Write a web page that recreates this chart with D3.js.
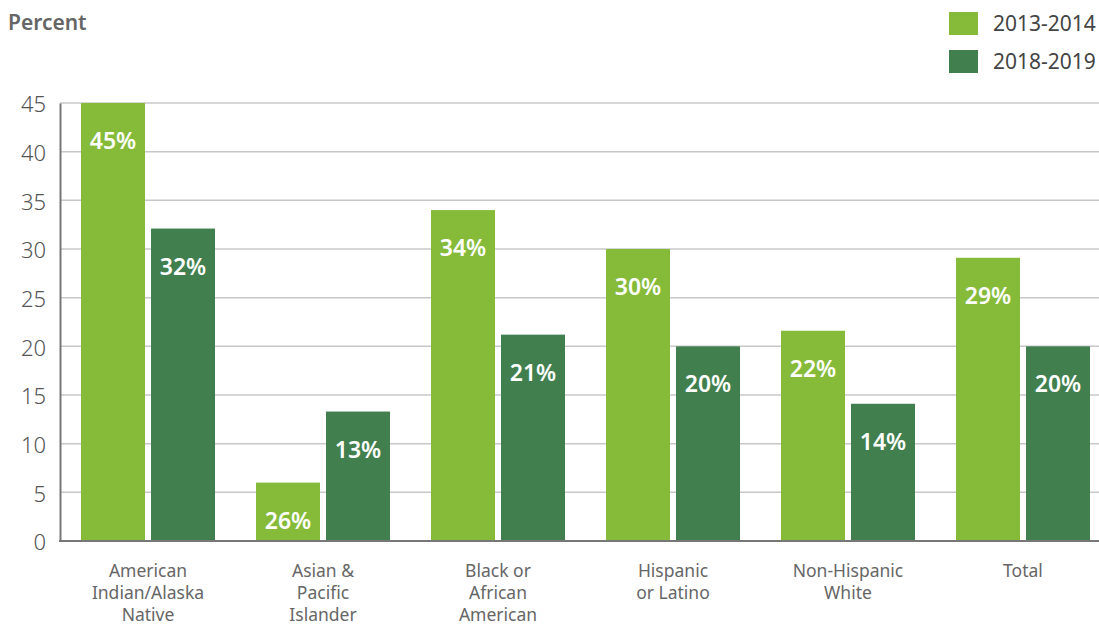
<!DOCTYPE html>
<html>
<head>
<meta charset="utf-8">
<script src="https://cdn.jsdelivr.net/npm/d3@7"></script>
<style>
  body { margin: 0; background: #fff; }
  text { font-family: "Noto Sans", Lato, sans-serif; }
</style>
</head>
<body>
<svg id="chart" width="1099" height="626"></svg>
<script>
const categories = [
    ['American', 'Indian/Alaska', 'Native'],
    ['Asian &', 'Pacific', 'Islander'],
    ['Black or', 'African', 'American'],
    ['Hispanic', 'or Latino'],
    ['Non-Hispanic', 'White'],
    ['Total']
]
const series = ['2013-2014', '2018-2019']
const values2013 = [45, 6, 34, 30, 21.6, 29.1]
const values2018 = [32.1, 13.3, 21.2, 20, 14.1, 20]
const labels2013 = ['45%', '26%', '34%', '30%', '22%', '29%']
const labels2018 = ['32%', '13%', '21%', '20%', '14%', '20%']
const yTicks = [0, 5, 10, 15, 20, 25, 30, 35, 40, 45]

const colors = { '2013-2014': '#86bb3a', '2018-2019': '#417f4f' }

const dims = {
    width: 1099,
    left: 60,
    top: 103,
    bottom: 541
}

const svg = d3.select('#chart')

const keys = categories.map((d, i) => 'c' + i)

const x = d3.scaleBand()
    .domain(keys)
    .range([dims.left, dims.left + 175 * 6.0057])
    .paddingInner(0.2343)
    .paddingOuter(0.12)

const xs = d3.scaleBand()
    .domain(series)
    .range([0, x.bandwidth()])
    .paddingInner(0.0857)

const y = d3.scaleLinear()
    .domain([0, 45])
    .range([dims.bottom, dims.top])

// gridlines
svg.append('g')
    .selectAll('line')
    .data(yTicks.filter(d => d > 0))
    .enter().append('line')
    .attr('x1', dims.left)
    .attr('x2', dims.width)
    .attr('y1', d => y(d))
    .attr('y2', d => y(d))
    .attr('stroke', '#c8c8c8')
    .attr('stroke-width', 1.5)

// y axis
const yAxis = svg.append('g')
    .attr('transform', `translate(${dims.left},0)`)
    .call(d3.axisLeft(y).tickValues(yTicks).tickSize(0).tickPadding(14))
yAxis.select('.domain').attr('stroke', '#777').attr('stroke-width', 2)
yAxis.selectAll('text')
    .attr('fill', '#555')
    .attr('font-size', 22)
    .attr('font-weight', 300)
    .attr('font-family', '"Noto Sans", Lato, sans-serif')
    .attr('dy', '0.4em')

// bars
const rows = categories.map((c, i) => ({
    key: keys[i],
    bars: [
        { s: series[0], v: values2013[i], label: labels2013[i] },
        { s: series[1], v: values2018[i], label: labels2018[i] }
    ]
}))

const groups = svg.append('g')
    .selectAll('g.group')
    .data(rows)
    .enter().append('g')
    .attr('class', 'group')
    .attr('transform', d => `translate(${x(d.key)},0)`)

groups.selectAll('rect')
    .data(d => d.bars)
    .enter().append('rect')
    .attr('x', d => xs(d.s))
    .attr('width', xs.bandwidth())
    .attr('y', d => y(d.v))
    .attr('height', d => y(0) - y(d.v))
    .attr('fill', d => colors[d.s])

groups.selectAll('text.value')
    .data(d => d.bars)
    .enter().append('text')
    .attr('class', 'value')
    .attr('x', d => xs(d.s) + xs.bandwidth() / 2)
    .attr('y', d => y(d.v) + 38)
    .attr('dy', '0.35em')
    .attr('text-anchor', 'middle')
    .attr('fill', '#fff')
    .attr('font-size', 23)
    .attr('font-weight', 600)
    .text(d => d.label)

// baseline
svg.append('line')
    .attr('x1', dims.left - 1)
    .attr('x2', dims.width)
    .attr('y1', y(0))
    .attr('y2', y(0))
    .attr('stroke', '#777')
    .attr('stroke-width', 2)

// category labels
svg.append('g')
    .selectAll('text')
    .data(categories)
    .enter().append('text')
    .attr('text-anchor', 'middle')
    .attr('fill', '#666')
    .attr('font-size', 17.5)
    .attr('x', (d, i) => x(keys[i]) + x.bandwidth() / 2)
    .attr('y', 577)
    .each(function (d) {
        d3.select(this).selectAll('tspan')
            .data(d)
            .enter().append('tspan')
            .attr('x', d3.select(this).attr('x'))
            .attr('dy', (t, j) => j ? 22 : 0)
            .text(t => t)
    })

// title
svg.append('text')
    .attr('x', 8)
    .attr('y', 30)
    .attr('fill', '#666')
    .attr('font-size', 21)
    .attr('font-weight', 600)
    .text('Percent')

// legend
const legend = svg.append('g')
    .selectAll('g')
    .data(series)
    .enter().append('g')
    .attr('transform', (d, i) => `translate(949,${12 + i * 38})`)
legend.append('rect')
    .attr('width', 29)
    .attr('height', 23)
    .attr('fill', d => colors[d])
legend.append('text')
    .attr('x', 44)
    .attr('y', 12)
    .attr('dy', '0.35em')
    .attr('fill', '#444')
    .attr('font-size', 21)
    .text(d => d)
</script>
</body>
</html>
